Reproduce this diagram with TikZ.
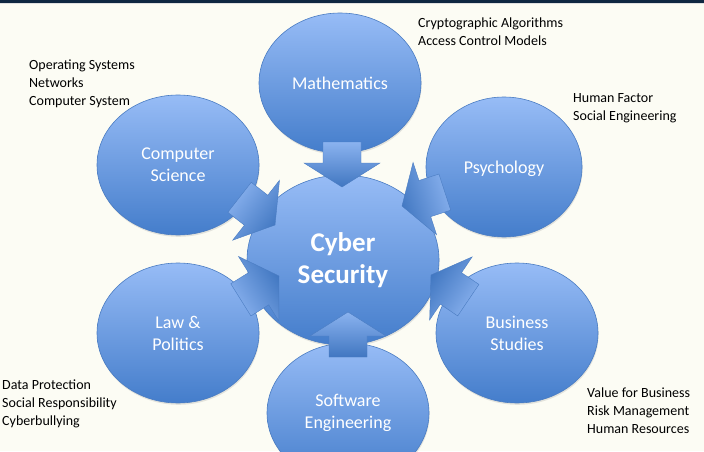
\documentclass[tikz,border=0pt]{standalone}
\usepackage{fontspec}
\setmainfont{Carlito}
\usepackage{tikz}
\usetikzlibrary{shapes.geometric,shadows}
\definecolor{paper}{HTML}{FCFCF4}
\definecolor{topbar}{HTML}{0F2741}
\definecolor{bluelight}{HTML}{97BCF6}
\definecolor{bluedark}{HTML}{447DCB}
\definecolor{blueedge}{HTML}{4A7CC2}

\begin{document}
\begin{tikzpicture}[
  x=1pt, y=1pt,
  field/.style={ellipse, draw=blueedge, line width=0.6pt, top color=bluelight, bottom color=bluedark,
    minimum width=162pt, minimum height=140pt, inner sep=0pt, text=white, align=center,
    font=\fontsize{18}{22}\selectfont,
    drop shadow={opacity=0.2, shadow xshift=0.6pt, shadow yshift=-1.8pt}},
  core/.style={field, minimum width=192pt, minimum height=170pt, font=\fontsize{27}{32}\selectfont\bfseries},
  topics/.style={anchor=north west, align=left, inner sep=0pt, font=\fontsize{14}{18}\selectfont},
  blockarrow/.style={draw=blueedge, line width=0.4pt, top color=bluelight!85!bluedark, bottom color=bluedark!95!black},
]
\path[use as bounding box] (0,0) rectangle (704,451);
\clip (0,0) rectangle (704,451);
\fill[paper] (0,0) rectangle (704,451);
\fill[black!12] (0,446.5) rectangle (704,448);
\fill[topbar] (0,448) rectangle (704,451);

\node[field] (math) at (340,368) {Mathematics};
\node[field] (cs) at (178,286) {Computer\\Science};
\node[field, minimum width=156pt, text depth=0pt] (psych) at (504,284) {Psychology};
\node[field] (law) at (178,118) {Law \&\\Politics};
\node[field] (biz) at (517,118) {Business\\Studies};
\node[field] (swe) at (348,38) {Software\\Engineering};
\node[core] (cyber) at (343,191) {Cyber\\Security};

\foreach \tx/\ty/\ang/\sh in {342/264/-90/0, 348/139/90/0, 275/226/-38/52,
                              402/245/198/288, 279/175/32/122, 431/176/146/236} {
  \path[blockarrow, shading angle=\sh, shift={(\tx,\ty)}, rotate=\ang]
    (0,0) -- (-24,38) -- (-24,19) -- (-45,19) -- (-45,-19) -- (-24,-19) -- (-24,-38) -- cycle;
}

\node[topics] (mathnote) at (418,433) {Cryptographic Algorithms\\Access Control Models};
\node[topics] (psychnote) at (573,358) {Human Factor\\Social Engineering};
\node[topics] (csnote) at (29,391) {Operating Systems\\Networks\\Computer System};
\node[topics] (lawnote) at (2,71) {Data Protection\\Social Responsibility\\Cyberbullying};
\node[topics] (biznote) at (587,63) {Value for Business\\Risk Management\\Human Resources};
\end{tikzpicture}
\end{document}
